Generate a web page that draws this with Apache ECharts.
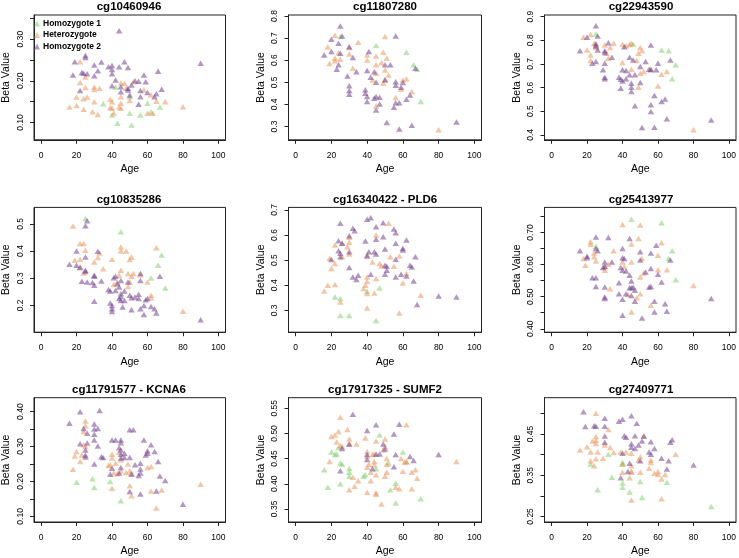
<!DOCTYPE html>
<html>
<head>
<meta charset="utf-8">
<script src="https://cdn.jsdelivr.net/npm/echarts@6.0.0/dist/echarts.min.js"></script>
<style>
  html, body { margin: 0; padding: 0; background: #fff; }
  #chart { width: 739px; height: 558px; }
</style>
</head>
<body>
<div id="chart"></div>
<script>
// genotype groups and panel titles
const groups = ['Homozygote 1', 'Heterozygote', 'Homozygote 2']
const titles = ['cg10460946', 'cg11807280', 'cg22943590', 'cg10835286', 'cg16340422 - PLD6',
    'cg25413977', 'cg11791577 - KCNA6', 'cg17917325 - SUMF2', 'cg27409771']

// axis ranges and ticks
const xTicks = [0, 20, 40, 60, 80, 100]
const yMin = [0.0585, 0.24, 0.379, 0.1015, 0.213, 0.3894, 0.084, 0.324, 0.2365]
const yMax = [0.358, 0.8045, 0.907, 0.5605, 0.71, 0.778, 0.44, 0.571, 0.538]
const yTicks = [
    [0.10, 0.15, 0.20, 0.25, 0.30, 0.35],
    [0.3, 0.4, 0.5, 0.6, 0.7, 0.8],
    [0.4, 0.5, 0.6, 0.7, 0.8, 0.9],
    [0.2, 0.3, 0.4, 0.5],
    [0.3, 0.4, 0.5, 0.6, 0.7],
    [0.40, 0.45, 0.50, 0.55, 0.60, 0.65, 0.70, 0.75],
    [0.10, 0.15, 0.20, 0.25, 0.30, 0.35, 0.40],
    [0.35, 0.40, 0.45, 0.50, 0.55],
    [0.25, 0.30, 0.35, 0.40, 0.45, 0.50],
]
const yLabels = [
    [0.10, 0.20, 0.30],
    [0.3, 0.4, 0.5, 0.6, 0.7, 0.8],
    [0.4, 0.5, 0.6, 0.7, 0.8, 0.9],
    [0.2, 0.3, 0.4, 0.5],
    [0.3, 0.4, 0.5, 0.6, 0.7],
    [0.40, 0.50, 0.60, 0.70],
    [0.10, 0.20, 0.30, 0.40],
    [0.35, 0.40, 0.45, 0.50, 0.55],
    [0.25, 0.35, 0.45],
]
const yDecimals = [2, 1, 1, 1, 1, 2, 2, 2, 2]

// [age, beta value]
const p1Green = [[35,0.145],[40,0.118],[43,0.098],[42,0.185],[50,0.122],[51,0.094],[56,0.118],[60,0.146],[62,0.126],[67,0.137],[50,0.162]]
const p1Orange = [[22,0.246],[25,0.209],[25,0.184],[22,0.196],[20,0.161],[16,0.137],[20,0.141],[24,0.157],[26,0.161],[30,0.185],[30,0.179],[33,0.182],[24,0.132],[29,0.126],[32,0.119],[30,0.15],[39,0.156],[40,0.15],[39,0.136],[40,0.134],[41,0.123],[45,0.195],[47,0.194],[45,0.162],[45,0.146],[44,0.137],[45,0.134],[48,0.182],[50,0.153],[52,0.198],[58,0.178],[60,0.122],[62,0.166],[63,0.122],[65,0.151],[70,0.15],[80,0.138]]
const p1Purple = [[44,0.32],[90,0.242],[25,0.261],[25,0.256],[19,0.246],[30,0.238],[34,0.245],[38,0.234],[40,0.237],[40,0.227],[40,0.217],[44,0.234],[47,0.246],[49,0.232],[18,0.214],[23,0.22],[24,0.218],[26,0.217],[32,0.224],[30,0.212],[42,0.202],[58,0.214],[66,0.223],[22,0.177],[40,0.188],[45,0.186],[45,0.174],[49,0.182],[49,0.178],[51,0.19],[53,0.2],[55,0.199],[59,0.198],[56,0.177],[60,0.172],[68,0.18],[65,0.169],[64,0.162],[50,0.166],[55,0.144],[56,0.162]]

const p2Green = [[25,0.707],[45,0.666],[62,0.636],[66,0.579],[68,0.559],[70,0.413]]
const p2Orange = [[22,0.713],[18,0.66],[19,0.585],[22,0.609],[22,0.597],[24,0.634],[25,0.604],[30,0.657],[30,0.628],[32,0.564],[35,0.681],[40,0.624],[40,0.601],[43,0.511],[45,0.619],[45,0.579],[45,0.541],[45,0.393],[48,0.589],[50,0.707],[49,0.636],[50,0.556],[50,0.514],[49,0.496],[51,0.609],[52,0.533],[56,0.431],[59,0.469],[60,0.511],[62,0.515],[65,0.458],[80,0.285]]
const p2Purple = [[25,0.755],[26,0.71],[56,0.71],[16,0.624],[20,0.639],[20,0.695],[24,0.677],[25,0.631],[24,0.579],[23,0.559],[29,0.529],[30,0.484],[30,0.463],[30,0.446],[30,0.661],[32,0.612],[34,0.548],[39,0.466],[39,0.451],[40,0.436],[40,0.413],[40,0.553],[41,0.639],[42,0.523],[44,0.548],[45,0.5],[44,0.428],[45,0.436],[47,0.433],[45,0.375],[47,0.402],[50,0.579],[53,0.579],[50,0.511],[56,0.503],[56,0.487],[55,0.387],[56,0.408],[58,0.408],[60,0.499],[59,0.478],[62,0.423],[64,0.443],[67,0.564],[51,0.318],[58,0.289],[65,0.306],[90,0.321]]

const p3Green = [[25,0.827],[46,0.783],[62,0.759],[66,0.756],[70,0.696],[68,0.637]]
const p3Orange = [[18,0.813],[22,0.824],[20,0.759],[22,0.738],[22,0.714],[24,0.787],[25,0.779],[25,0.77],[30,0.78],[31,0.745],[32,0.724],[33,0.769],[35,0.787],[40,0.783],[40,0.706],[42,0.777],[44,0.782],[45,0.787],[45,0.677],[48,0.714],[49,0.745],[50,0.77],[51,0.756],[50,0.661],[52,0.668],[49,0.601],[56,0.679],[60,0.607],[62,0.656],[65,0.668],[80,0.421]]
const p3Purple = [[25,0.861],[16,0.756],[20,0.813],[25,0.785],[26,0.818],[25,0.776],[26,0.759],[23,0.703],[25,0.71],[29,0.675],[30,0.756],[30,0.748],[30,0.703],[30,0.644],[30,0.637],[32,0.79],[34,0.728],[38,0.644],[39,0.597],[39,0.635],[40,0.628],[40,0.675],[41,0.773],[42,0.672],[42,0.637],[44,0.654],[44,0.728],[45,0.618],[45,0.601],[45,0.583],[46,0.717],[47,0.654],[47,0.523],[50,0.689],[50,0.621],[53,0.71],[51,0.431],[55,0.677],[56,0.675],[56,0.78],[56,0.527],[56,0.499],[59,0.675],[60,0.703],[58,0.566],[58,0.432],[62,0.541],[64,0.552],[65,0.468],[67,0.717],[90,0.463]]

const p4Green = [[25,0.52],[45,0.471],[68,0.385],[66,0.348],[62,0.301],[70,0.264]]
const p4Orange = [[18,0.492],[22,0.428],[24,0.428],[25,0.403],[19,0.366],[22,0.37],[22,0.341],[24,0.319],[33,0.393],[32,0.376],[30,0.36],[35,0.335],[40,0.37],[45,0.415],[45,0.4],[45,0.329],[48,0.4],[50,0.369],[51,0.378],[49,0.317],[51,0.307],[52,0.317],[50,0.286],[49,0.27],[56,0.313],[60,0.286],[65,0.412],[62,0.228],[62,0.237],[41,0.277],[43,0.286],[80,0.179],[44,0.311]]
const p4Purple = [[16,0.351],[20,0.4],[20,0.348],[22,0.339],[25,0.493],[26,0.511],[25,0.378],[25,0.329],[25,0.325],[23,0.289],[26,0.286],[30,0.311],[30,0.307],[32,0.399],[34,0.29],[30,0.274],[29,0.284],[30,0.215],[38,0.259],[39,0.253],[39,0.209],[40,0.2],[40,0.188],[40,0.178],[41,0.302],[42,0.307],[42,0.255],[43,0.28],[44,0.268],[44,0.225],[45,0.233],[45,0.218],[45,0.292],[46,0.194],[45,0.243],[47,0.253],[49,0.286],[47,0.218],[50,0.237],[51,0.228],[51,0.184],[53,0.231],[55,0.241],[56,0.317],[56,0.292],[55,0.225],[56,0.188],[58,0.2],[58,0.167],[59,0.221],[60,0.225],[62,0.196],[64,0.188],[65,0.172],[67,0.307],[90,0.147]]

const p5Green = [[22,0.353],[25,0.347],[25,0.28],[30,0.28],[40,0.376],[47,0.389],[45,0.26]]
const p5Orange = [[16,0.377],[18,0.4],[19,0.507],[20,0.467],[22,0.487],[22,0.56],[22,0.403],[25,0.333],[26,0.567],[26,0.513],[30,0.571],[29,0.553],[30,0.524],[30,0.591],[40,0.52],[40,0.433],[40,0.416],[40,0.367],[40,0.309],[39,0.4],[38,0.387],[43,0.493],[44,0.369],[45,0.6],[45,0.427],[47,0.487],[48,0.477],[52,0.647],[53,0.513],[55,0.476],[58,0.516],[58,0.289],[60,0.409],[62,0.447],[70,0.36]]
const p5Purple = [[25,0.647],[20,0.503],[24,0.537],[24,0.577],[25,0.513],[25,0.527],[26,0.567],[30,0.471],[30,0.533],[30,0.597],[32,0.627],[33,0.617],[32,0.433],[34,0.423],[35,0.44],[39,0.576],[40,0.663],[42,0.669],[41,0.533],[40,0.516],[42,0.444],[44,0.533],[45,0.633],[45,0.524],[45,0.583],[49,0.649],[49,0.593],[50,0.544],[50,0.48],[50,0.444],[51,0.46],[51,0.476],[55,0.624],[56,0.609],[56,0.567],[56,0.504],[56,0.433],[60,0.547],[60,0.54],[59,0.444],[62,0.58],[62,0.437],[64,0.48],[65,0.473],[66,0.417],[67,0.513],[68,0.323],[80,0.357],[90,0.353]]

const p6Green = [[45,0.741],[62,0.73],[25,0.657],[68,0.643],[66,0.619],[70,0.553]]
const p6Orange = [[22,0.671],[22,0.663],[18,0.619],[19,0.598],[24,0.636],[25,0.611],[24,0.624],[30,0.593],[30,0.582],[32,0.601],[35,0.643],[33,0.525],[40,0.725],[40,0.608],[41,0.593],[43,0.507],[45,0.664],[45,0.608],[45,0.452],[48,0.497],[49,0.681],[50,0.561],[50,0.723],[51,0.619],[50,0.509],[52,0.574],[56,0.473],[60,0.629],[60,0.584],[62,0.668],[65,0.584],[80,0.535]]
const p6Purple = [[16,0.643],[20,0.626],[20,0.621],[25,0.686],[25,0.65],[26,0.643],[23,0.559],[25,0.559],[25,0.532],[30,0.608],[29,0.591],[30,0.595],[32,0.684],[34,0.608],[30,0.53],[30,0.499],[30,0.494],[38,0.543],[38,0.509],[39,0.591],[40,0.582],[40,0.65],[40,0.621],[41,0.619],[40,0.492],[40,0.442],[42,0.58],[42,0.509],[44,0.681],[44,0.567],[44,0.528],[45,0.528],[45,0.549],[45,0.504],[46,0.53],[47,0.52],[47,0.486],[50,0.64],[50,0.614],[51,0.434],[53,0.577],[55,0.53],[56,0.532],[56,0.636],[56,0.588],[58,0.486],[58,0.452],[59,0.66],[60,0.57],[62,0.546],[64,0.478],[65,0.455],[67,0.614],[90,0.494]]

const p7Green = [[20,0.198],[29,0.208],[30,0.183],[39,0.2],[45,0.145]]
const p7Orange = [[18,0.235],[19,0.273],[20,0.286],[22,0.257],[23,0.276],[24,0.305],[25,0.373],[25,0.36],[24,0.343],[25,0.3],[40,0.278],[40,0.267],[39,0.248],[40,0.181],[41,0.224],[42,0.252],[44,0.284],[43,0.222],[45,0.23],[45,0.262],[48,0.226],[49,0.25],[50,0.231],[50,0.188],[51,0.159],[51,0.224],[60,0.24],[62,0.243],[62,0.173],[68,0.176],[65,0.124],[90,0.192],[38,0.246]]
const p7Purple = [[22,0.4],[33,0.403],[16,0.367],[24,0.352],[26,0.338],[22,0.308],[26,0.31],[25,0.29],[25,0.276],[25,0.27],[30,0.365],[30,0.35],[32,0.352],[30,0.335],[30,0.319],[32,0.302],[30,0.25],[34,0.271],[35,0.269],[40,0.319],[42,0.319],[45,0.319],[45,0.311],[40,0.238],[39,0.221],[44,0.297],[45,0.29],[45,0.278],[45,0.267],[47,0.281],[47,0.269],[44,0.224],[45,0.24],[50,0.348],[52,0.348],[50,0.269],[51,0.221],[50,0.171],[53,0.248],[55,0.217],[56,0.252],[56,0.236],[56,0.224],[56,0.164],[58,0.319],[59,0.276],[60,0.288],[60,0.281],[62,0.305],[64,0.286],[66,0.257],[67,0.216],[70,0.203],[65,0.173],[80,0.135]]

const p8Green = [[16,0.428],[18,0.393],[20,0.463],[22,0.458],[23,0.459],[24,0.472],[25,0.441],[26,0.439],[25,0.4],[30,0.431],[30,0.423],[30,0.415],[38,0.415],[39,0.418],[47,0.497],[52,0.441],[53,0.388],[56,0.401],[56,0.362],[60,0.463],[62,0.444],[70,0.37],[45,0.43]]
const p8Orange = [[25,0.532],[19,0.444],[20,0.494],[22,0.497],[23,0.483],[24,0.504],[25,0.476],[26,0.474],[29,0.508],[30,0.489],[30,0.479],[30,0.388],[32,0.413],[33,0.395],[34,0.479],[35,0.406],[39,0.491],[40,0.464],[40,0.454],[40,0.433],[40,0.383],[41,0.439],[42,0.423],[42,0.406],[43,0.458],[44,0.444],[44,0.438],[44,0.459],[45,0.485],[45,0.418],[45,0.382],[45,0.379],[48,0.36],[49,0.467],[50,0.489],[50,0.474],[51,0.423],[51,0.439],[51,0.45],[50,0.415],[56,0.393],[58,0.39],[59,0.45],[60,0.425],[61,0.443],[62,0.443],[62,0.517],[65,0.423],[65,0.39],[67,0.428],[68,0.411],[90,0.444]]
const p8Purple = [[32,0.538],[25,0.426],[26,0.47],[30,0.479],[40,0.506],[40,0.458],[40,0.448],[45,0.517],[45,0.459],[47,0.459],[43,0.43],[49,0.479],[50,0.469],[55,0.499],[55,0.434],[56,0.458],[58,0.518],[64,0.454],[66,0.446],[80,0.458]]

const p9Green = [[22,0.377],[26,0.315],[32,0.401],[34,0.345],[40,0.381],[40,0.377],[40,0.331],[40,0.321],[44,0.309],[50,0.335],[51,0.296],[65,0.333],[90,0.274]]
const p9Orange = [[16,0.411],[20,0.419],[22,0.406],[22,0.385],[24,0.373],[25,0.5],[25,0.444],[25,0.435],[25,0.427],[23,0.433],[25,0.39],[26,0.406],[29,0.391],[30,0.423],[32,0.461],[33,0.417],[35,0.405],[39,0.406],[40,0.357],[40,0.377],[42,0.406],[45,0.403],[45,0.373],[45,0.36],[45,0.357],[44,0.344],[45,0.29],[49,0.387],[50,0.395],[50,0.357],[52,0.445],[55,0.367],[56,0.387],[56,0.381],[58,0.355],[60,0.359],[60,0.352],[62,0.341],[62,0.293],[64,0.352],[70,0.401]]
const p9Purple = [[18,0.504],[19,0.468],[24,0.47],[25,0.469],[30,0.488],[30,0.469],[30,0.445],[30,0.43],[38,0.481],[40,0.486],[45,0.494],[48,0.476],[41,0.446],[42,0.442],[47,0.446],[45,0.426],[45,0.418],[47,0.415],[49,0.423],[51,0.433],[52,0.445],[40,0.403],[44,0.379],[43,0.359],[39,0.344],[50,0.385],[56,0.431],[55,0.406],[56,0.401],[58,0.415],[62,0.391],[65,0.365],[66,0.385],[67,0.43],[68,0.436],[80,0.375]]

const panels = [
    [p1Green, p1Orange, p1Purple],
    [p2Green, p2Orange, p2Purple],
    [p3Green, p3Orange, p3Purple],
    [p4Green, p4Orange, p4Purple],
    [p5Green, p5Orange, p5Purple],
    [p6Green, p6Orange, p6Purple],
    [p7Green, p7Orange, p7Purple],
    [p8Green, p8Orange, p8Purple],
    [p9Green, p9Orange, p9Purple],
]

// layout
const colors = ['rgba(125, 205, 105, 0.65)', 'rgba(233, 145, 88, 0.65)', 'rgba(112, 62, 142, 0.68)']
const colLeft = [32.5, 288.5, 544.5]
const rowTop = [15, 207.4, 397.7]
const boxW = 193
const boxH = 124.8
const font = 'Liberation Sans, Arial, Helvetica, sans-serif'

const grid = []
const xAxis = []
const yAxis = []
const title = []
const series = []

panels.forEach((groupData, i) => {
    const col = i % 3
    const row = Math.floor(i / 3)
    grid.push({
        left: colLeft[col],
        top: rowTop[row],
        width: boxW,
        height: boxH,
        show: true,
        borderColor: '#222',
        borderWidth: 1,
        backgroundColor: 'transparent',
    })
    title.push({
        text: titles[i],
        left: colLeft[col] + boxW / 2,
        top: rowTop[row] - 14,
        textAlign: 'center',
        padding: 0,
        textStyle: {fontFamily: font, fontSize: 11.5, fontWeight: 'bold', color: '#000'},
    })
    xAxis.push({
        gridIndex: i,
        type: 'value',
        min: -4,
        max: 104,
        name: 'Age',
        nameLocation: 'middle',
        nameGap: 24,
        nameTextStyle: {fontFamily: font, fontSize: 10.5, color: '#000'},
        axisLine: {show: true, onZero: false, lineStyle: {color: '#222', width: 1}},
        axisTick: {show: true, customValues: xTicks, length: 4, lineStyle: {color: '#222'}},
        axisLabel: {customValues: xTicks, fontFamily: font, fontSize: 8.5, color: '#000', margin: 11},
        splitLine: {show: false},
    })
    yAxis.push({
        gridIndex: i,
        type: 'value',
        min: yMin[i],
        max: yMax[i],
        name: 'Beta Value',
        nameLocation: 'middle',
        nameRotate: 90,
        nameGap: 22,
        nameTextStyle: {fontFamily: font, fontSize: 10.5, color: '#000'},
        axisLine: {show: true, onZero: false, lineStyle: {color: '#222', width: 1}},
        axisTick: {show: true, customValues: yTicks[i], length: 4, lineStyle: {color: '#222'}},
        axisLabel: {
            customValues: yLabels[i],
            rotate: 90,
            fontFamily: font,
            fontSize: 8.5,
            color: '#000',
            margin: 9,
            formatter: (v) => Number(v).toFixed(yDecimals[i]),
        },
        splitLine: {show: false},
    })
    groupData.forEach((data, g) => {
        series.push({
            type: 'scatter',
            name: groups[g],
            xAxisIndex: i,
            yAxisIndex: i,
            data: data,
            symbol: 'triangle',
            symbolSize: [6.5, 5.5],
            itemStyle: {color: colors[g]},
        })
    })
})

const myChart = echarts.init(document.getElementById('chart'), null, {renderer: 'canvas'})
myChart.setOption({
    animation: false,
    backgroundColor: '#fff',
    textStyle: {fontFamily: font},
    title: title,
    legend: {
        data: groups,
        orient: 'vertical',
        left: 34,
        top: 19,
        padding: 0,
        itemGap: 2.5,
        itemWidth: 6,
        itemHeight: 6,
        icon: 'triangle',
        textStyle: {fontFamily: font, fontSize: 8.5, fontWeight: 'bold', color: '#000', padding: [0, 0, 0, -2]},
    },
    grid: grid,
    xAxis: xAxis,
    yAxis: yAxis,
    series: series,
})
</script>
</body>
</html>
